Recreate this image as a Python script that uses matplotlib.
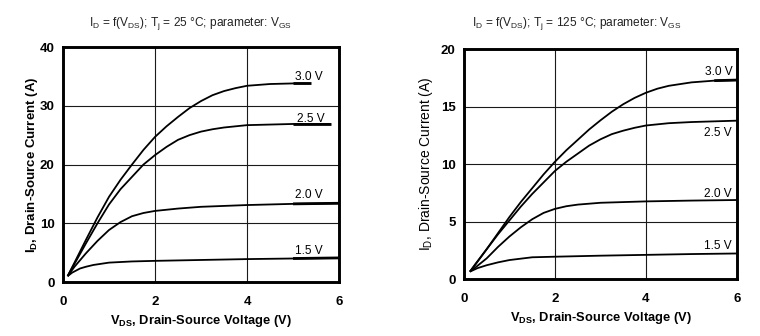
import matplotlib
matplotlib.use("Agg")
import matplotlib.pyplot as plt

plt.rcParams["font.family"] = ["Liberation Sans", "DejaVu Sans"]
plt.rcParams["mathtext.fontset"] = "custom"
plt.rcParams["mathtext.rm"] = "Liberation Sans"
plt.rcParams["mathtext.it"] = "Liberation Sans:italic"
plt.rcParams["mathtext.bf"] = "Liberation Sans:bold"

# Output characteristics, Tj = 25 °C
v25 = {
    "3.0 V": [0.1, 0.25, 0.5, 0.75, 1.0, 1.25, 1.5, 1.75, 2.0, 2.25, 2.5, 2.75, 3.0,
              3.25, 3.5, 3.75, 4.0, 4.5, 5.0, 5.38],
    "2.5 V": [0.1, 0.25, 0.5, 0.75, 1.0, 1.25, 1.5, 1.75, 2.0, 2.25, 2.5, 2.75, 3.0,
              3.25, 3.5, 4.0, 4.5, 5.0, 5.82],
    "2.0 V": [0.1, 0.25, 0.5, 0.75, 1.0, 1.25, 1.5, 1.75, 2.0, 2.5, 3.0, 4.0, 5.0, 6.0],
    "1.5 V": [0.1, 0.2, 0.37, 0.5, 0.66, 1.0, 1.5, 2.0, 3.0, 4.0, 5.0, 6.0],
}
i25 = {
    "3.0 V": [1.0, 3.3, 7.2, 11.0, 14.5, 17.4, 20.0, 22.5, 24.7, 26.5, 28.1, 29.6, 30.8,
              31.8, 32.5, 33.0, 33.4, 33.7, 33.8, 33.8],
    "2.5 V": [1.0, 3.1, 6.6, 10.0, 13.2, 15.8, 17.9, 20.0, 21.6, 23.0, 24.2, 25.0, 25.6,
              26.0, 26.3, 26.7, 26.8, 26.9, 26.9],
    "2.0 V": [1.0, 2.6, 4.9, 7.0, 8.85, 10.2, 11.2, 11.75, 12.1, 12.5, 12.8, 13.1, 13.3, 13.4],
    "1.5 V": [1.0, 1.6, 2.3, 2.6, 2.9, 3.3, 3.5, 3.6, 3.75, 3.9, 4.0, 4.1],
}

# Output characteristics, Tj = 125 °C
v125 = {
    "3.0 V": [0.13, 0.25, 0.5, 0.75, 1.0, 1.25, 1.5, 1.75, 2.0, 2.25, 2.5, 2.75, 3.0,
              3.25, 3.5, 3.75, 4.0, 4.25, 4.5, 5.0, 5.5, 6.0],
    "2.5 V": [0.13, 0.25, 0.5, 0.75, 1.0, 1.25, 1.5, 1.75, 2.0, 2.25, 2.5, 2.75, 3.0,
              3.25, 3.5, 3.75, 4.0, 4.5, 5.0, 6.0],
    "2.0 V": [0.13, 0.25, 0.5, 0.75, 1.0, 1.25, 1.5, 1.75, 2.0, 2.25, 2.5, 3.0, 4.0, 5.0, 6.0],
    "1.5 V": [0.13, 0.3, 0.5, 0.75, 1.0, 1.5, 2.0, 3.0, 4.0, 5.0, 6.0],
}
i125 = {
    "3.0 V": [0.64, 1.3, 2.6, 4.0, 5.4, 6.7, 7.9, 9.1, 10.2, 11.2, 12.1, 13.0, 13.8,
              14.55, 15.2, 15.75, 16.2, 16.55, 16.8, 17.1, 17.25, 17.3],
    "2.5 V": [0.64, 1.25, 2.6, 3.9, 5.1, 6.3, 7.4, 8.4, 9.4, 10.2, 10.9, 11.6, 12.15,
              12.6, 12.9, 13.15, 13.35, 13.55, 13.65, 13.77],
    "2.0 V": [0.64, 1.0, 1.8, 2.8, 3.7, 4.5, 5.2, 5.75, 6.1, 6.33, 6.47, 6.63, 6.75, 6.82, 6.87],
    "1.5 V": [0.64, 0.95, 1.2, 1.45, 1.65, 1.89, 1.94, 2.03, 2.1, 2.17, 2.22],
}

x_ticks = [0, 2, 4, 6]
y_ticks_25 = [0, 10, 20, 30, 40]
y_ticks_125 = [0, 5, 10, 15, 20]

# label anchor (V, I) for each curve name
lbl25 = {"3.0 V": (5.04, 34.9), "2.5 V": (5.08, 27.8), "2.0 V": (5.04, 14.8), "1.5 V": (5.04, 5.3)}
lbl125 = {"3.0 V": (5.3, 18.0), "2.5 V": (5.27, 12.7), "2.0 V": (5.27, 7.4), "1.5 V": (5.27, 2.9)}
tail25 = {"3.0 V": 4.7, "2.5 V": 4.7, "2.0 V": 4.7, "1.5 V": 4.7}
tail125 = {"3.0 V": 5.2, "2.5 V": 5.2, "2.0 V": 5.2, "1.5 V": 5.2}

fig = plt.figure(figsize=(7.6, 3.36), dpi=100)
ax1 = fig.add_axes([0.0829, 0.1607, 0.3632, 0.6994])
ax2 = fig.add_axes([0.6105, 0.1696, 0.3592, 0.6845])


def draw(ax, vs, cs, labels, tails, yticks, ylabel, ylabel_weight, ylabel_size, ylabel_pad):
    ax.set_xlim(0, 6)
    ax.set_ylim(yticks[0], yticks[-1])
    ax.set_xticks(x_ticks)
    ax.set_yticks(yticks)
    ax.tick_params(length=0, labelsize=9.5)
    ax.tick_params(axis="x", pad=10)
    ax.tick_params(axis="y", pad=6)
    for lab in ax.get_xticklabels() + ax.get_yticklabels():
        lab.set_fontweight("bold")
    for s in ax.spines.values():
        s.set_linewidth(2.1)
        s.set_color("black")
    ax.grid(True, color="#1a1a1a", linewidth=0.8)
    ax.set_axisbelow(True)
    for name in vs:
        v = vs[name]
        c = cs[name]
        ax.plot(v, c, color="black", linewidth=1.3, solid_capstyle="butt",
                solid_joinstyle="round", clip_on=False, zorder=3)
        tv = [a for a in v if a >= tails[name]]
        tc = [b for a, b in zip(v, c) if a >= tails[name]]
        ax.plot(tv, tc, color="black", linewidth=2.0, solid_capstyle="butt", clip_on=False, zorder=3)
        lx, ly = labels[name]
        ax.text(lx, ly, name, fontsize=8.6, ha="left", va="center", zorder=4)
    ax.set_xlabel(r"V$_\mathbf{DS}$, Drain-Source Voltage (V)", fontsize=9.3,
                  fontweight="bold", labelpad=4)
    ax.set_ylabel(ylabel, fontsize=ylabel_size, fontweight=ylabel_weight, labelpad=ylabel_pad)


draw(ax1, v25, i25, lbl25, tail25, y_ticks_25,
     r"I$_\mathbf{D}$, Drain-Source Current (A)", "bold", 9.5, 0)
draw(ax2, v125, i125, lbl125, tail125, y_ticks_125,
     r"I$_\mathrm{D}$, Drain-Source Current (A)", "normal", 10.0, 4)

fig.text(190 / 760, 1 - 24 / 336,
         r"I$_\mathrm{D}$ = f(V$_\mathrm{DS}$); T$_\mathrm{j}$ = 25 °C; parameter: V$_\mathrm{GS}$",
         fontsize=8.6, ha="center", va="center", color="#222222")
fig.text(577 / 760, 1 - 24 / 336,
         r"I$_\mathrm{D}$ = f(V$_\mathrm{DS}$); T$_\mathrm{j}$ = 125 °C; parameter: V$_\mathrm{GS}$",
         fontsize=8.6, ha="center", va="center", color="#222222")

fig.savefig("out.png", dpi=100)
